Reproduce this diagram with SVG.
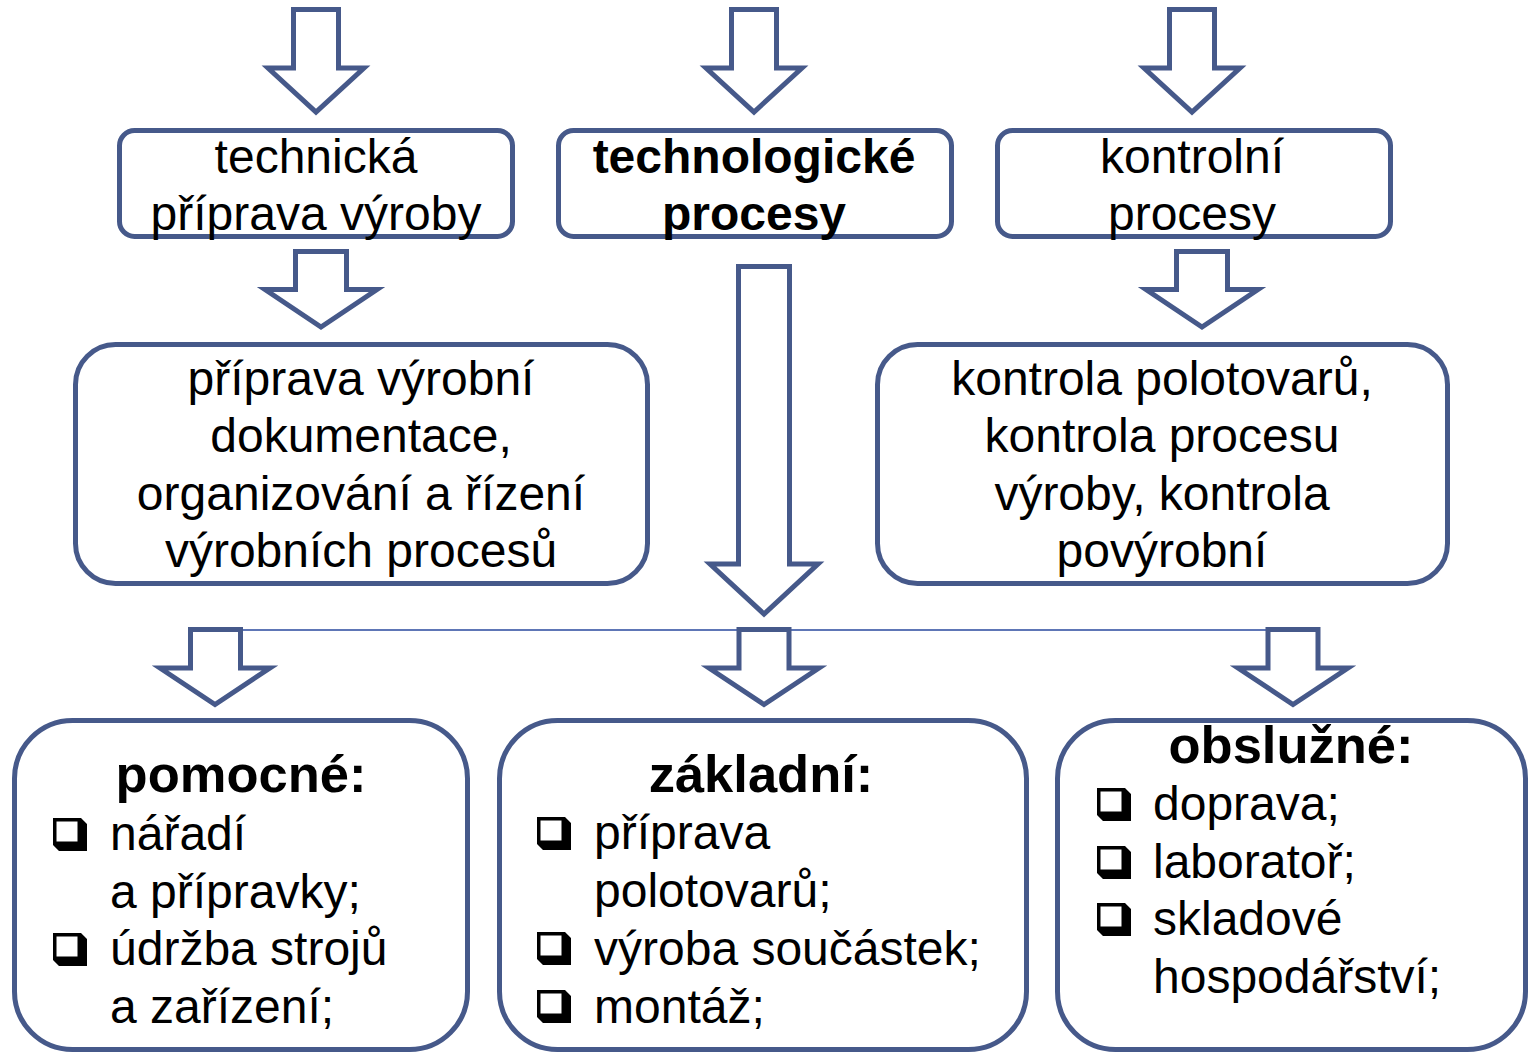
<svg xmlns="http://www.w3.org/2000/svg" xmlns:xlink="http://www.w3.org/1999/xlink" width="1531" height="1052" viewBox="0 0 1531 1052">
<style>
.box{fill:#ffffff;stroke:#46598A;stroke-width:5}
.arr{fill:#ffffff;stroke:#46598A;stroke-width:5;stroke-linejoin:miter}
.t{font-family:"Liberation Sans",Arial,sans-serif;font-size:48px;fill:#000}
.c{text-anchor:middle}
.b{font-weight:bold}
.h{font-family:"Liberation Sans",Arial,sans-serif;font-size:52.5px;font-weight:bold;fill:#000;text-anchor:middle}
</style>
<defs>
<path id="bullet" fill="#000" fill-rule="evenodd" d="M0,0 H28 L34,6 V33 H6 L0,27 Z M3.5,3.5 V23.5 H24.5 V3.5 Z"/>
</defs>
<rect width="1531" height="1052" fill="#ffffff"/>
<g id="connectors">
<line x1="243" y1="630" x2="1266" y2="630" stroke="#5E76B6" stroke-width="2"/>
<polygon class="arr" points="293.5,9.5 338.5,9.5 338.5,68 364,68 316,112 268,68 293.5,68"/>
<polygon class="arr" points="731.5,9.5 776.5,9.5 776.5,68 802,68 754,112 706,68 731.5,68"/>
<polygon class="arr" points="1169.5,9.5 1214.5,9.5 1214.5,68 1240,68 1192,112 1144,68 1169.5,68"/>
<polygon class="arr" points="295.5,251.5 346.5,251.5 346.5,289.5 377,289.5 321,327 265,289.5 295.5,289.5"/>
<polygon class="arr" points="1176.5,251.5 1227.5,251.5 1227.5,289.5 1258,289.5 1202,327 1146,289.5 1176.5,289.5"/>
<polygon class="arr" points="738.5,266.5 789.5,266.5 789.5,564 818,564 764,614 710,564 738.5,564"/>
<polygon class="arr" points="190.5,629.5 240.5,629.5 240.5,668 270,668 215,704.5 160,668 190.5,668"/>
<polygon class="arr" points="739,629.5 789,629.5 789,668 819,668 764,704.5 709,668 739,668"/>
<polygon class="arr" points="1268,629.5 1318,629.5 1318,668 1348,668 1293,704.5 1238,668 1268,668"/>
</g>
<g id="n-technicka">
<rect class="box" x="119.5" y="130.5" width="393" height="106" rx="15"/>
<text class="t c" x="316" y="173">technická</text>
<text class="t c" x="316" y="230">příprava výroby</text>
</g>
<g id="n-technologicke">
<rect class="box" x="558.5" y="130.5" width="393" height="106" rx="15"/>
<text class="t c b" x="754" y="173">technologické</text>
<text class="t c b" x="754" y="230">procesy</text>
</g>
<g id="n-kontrolni">
<rect class="box" x="997.5" y="130.5" width="393" height="106" rx="15"/>
<text class="t c" x="1192" y="173">kontrolní</text>
<text class="t c" x="1192" y="230">procesy</text>
</g>
<g id="n-priprava">
<rect class="box" x="75.5" y="344.5" width="572" height="239" rx="40"/>
<text class="t c" x="361" y="395">příprava výrobní</text>
<text class="t c" x="361" y="452">dokumentace,</text>
<text class="t c" x="361" y="510">organizování a řízení</text>
<text class="t c" x="361" y="567">výrobních procesů</text>
</g>
<g id="n-kontrola">
<rect class="box" x="877.5" y="344.5" width="570" height="239" rx="40"/>
<text class="t c" x="1162" y="395">kontrola polotovarů,</text>
<text class="t c" x="1162" y="452">kontrola procesu</text>
<text class="t c" x="1162" y="510">výroby, kontrola</text>
<text class="t c" x="1162" y="567">povýrobní</text>
</g>
<g id="n-pomocne">
<rect class="box" x="14.5" y="720.5" width="453" height="329" rx="58"/>
<text class="h" x="241" y="792">pomocné:</text>
<use xlink:href="#bullet" x="53" y="818"/>
<text class="t" x="110" y="850">nářadí</text>
<text class="t" x="110" y="908">a přípravky;</text>
<use xlink:href="#bullet" x="53" y="933"/>
<text class="t" x="110" y="965">údržba strojů</text>
<text class="t" x="110" y="1023">a zařízení;</text>
</g>
<g id="n-zakladni">
<rect class="box" x="499.5" y="720.5" width="527" height="329" rx="58"/>
<text class="h" x="761" y="792">základní:</text>
<use xlink:href="#bullet" x="537" y="817"/>
<text class="t" x="594" y="849">příprava</text>
<text class="t" x="594" y="907">polotovarů;</text>
<use xlink:href="#bullet" x="537" y="932"/>
<text class="t" x="594" y="965">výroba součástek;</text>
<use xlink:href="#bullet" x="537" y="990"/>
<text class="t" x="594" y="1023">montáž;</text>
</g>
<g id="n-obsluzne">
<rect class="box" x="1057.5" y="720.5" width="468" height="329" rx="58"/>
<text class="h" x="1291" y="763">obslužné:</text>
<use xlink:href="#bullet" x="1097" y="788"/>
<text class="t" x="1153" y="820">doprava;</text>
<use xlink:href="#bullet" x="1097" y="846"/>
<text class="t" x="1153" y="878">laboratoř;</text>
<use xlink:href="#bullet" x="1097" y="903"/>
<text class="t" x="1153" y="935">skladové</text>
<text class="t" x="1153" y="993">hospodářství;</text>
</g>
</svg>
